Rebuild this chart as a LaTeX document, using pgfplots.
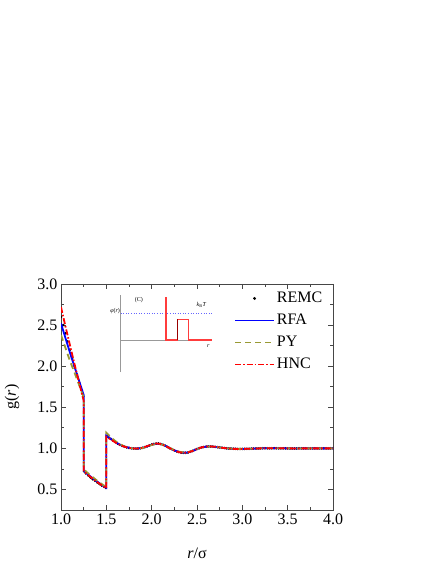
\documentclass[border=0pt]{standalone}
\usepackage{fontspec}
\setmainfont{Liberation Serif}
\usepackage{pgfplots}
\pgfplotsset{compat=1.18}
\definecolor{pyolive}{RGB}{153,153,51}
\definecolor{axisgray}{RGB}{70,70,70}
\definecolor{insetred}{RGB}{255,60,60}
\begin{document}
\begin{tikzpicture}
\useasboundingbox (-61bp,-54bp) rectangle (375bp,510bp);
\begin{axis}[
  at={(0,0)}, anchor=south west,
  scale only axis,
  width=272bp, height=226bp,
  clip marker paths=true,
  xmin=1, xmax=4, ymin=0.25, ymax=3,
  xtick={1,1.5,...,4}, ytick={0.5,1,...,3},
  minor x tick num=1, minor y tick num=1,
  tick align=inside,
  major tick length=5bp, minor tick length=3bp,
  axis line style={axisgray, line width=0.8bp},
  tick style={axisgray, line width=0.8bp},
  /pgf/number format/assume math mode=true,
  xticklabel style={/pgf/number format/.cd, fixed, fixed zerofill, precision=1},
  yticklabel style={/pgf/number format/.cd, fixed, fixed zerofill, precision=1},
  tick label style={font=\fontsize{16bp}{19bp}\selectfont},
  label style={font=\fontsize{16bp}{19bp}\selectfont},
  xlabel={\textit{r}/σ},
  ylabel={g(\textit{r})},
  xlabel style={at={(axis description cs:0.5,0)}, anchor=center, yshift=-43bp},
  ylabel style={at={(axis description cs:-0.18,0.5)}, anchor=center},
  legend style={at={(0.625,0.99)}, anchor=north west, draw=none, fill=none,
    font=\fontsize{16bp}{19bp}\selectfont, row sep=2bp,
    nodes={inner sep=2bp, text height=12bp, text depth=4bp}},
  legend cell align=left,
  legend image code/.code={\draw[#1] (0bp,0bp) -- (39bp,0bp);},
]
% REMC
\addplot[only marks, mark=*, mark size=1.1bp, black,
  legend image code/.code={\fill[black] (19.5bp,0bp) circle (1.3bp);}] coordinates {
(1.000,2.60) (1.025,2.50) (1.050,2.40) (1.075,2.30) (1.100,2.20) (1.125,2.10)
(1.150,2.00) (1.175,1.90) (1.200,1.80) (1.225,1.71) (1.245,1.63)
(1.255,0.72) (1.275,0.695) (1.300,0.67) (1.325,0.645) (1.350,0.625) (1.375,0.605)
(1.400,0.585) (1.425,0.565) (1.450,0.548) (1.475,0.532) (1.495,0.518)
(1.505,1.15) (1.525,1.135) (1.550,1.115) (1.575,1.095) (1.600,1.075) (1.625,1.058)
(1.650,1.043) (1.675,1.030) (1.700,1.020) (1.725,1.012) (1.750,1.006) (1.775,1.001)
(1.800,0.998) (1.825,0.997) (1.850,0.998) (1.875,1.001) (1.900,1.007) (1.925,1.015)
(1.950,1.025) (1.975,1.036) (2.000,1.046) (2.025,1.054) (2.050,1.058) (2.075,1.058)
(2.100,1.053) (2.125,1.044) (2.150,1.031) (2.175,1.017) (2.200,1.002) (2.225,0.988)
(2.250,0.975) (2.275,0.964) (2.300,0.955) (2.325,0.949) (2.350,0.946) (2.375,0.946)
(2.400,0.950) (2.425,0.958) (2.450,0.969) (2.475,0.981) (2.500,0.993) (2.525,1.003)
(2.550,1.011) (2.575,1.017) (2.600,1.021) (2.625,1.023) (2.650,1.023) (2.675,1.021)
(2.700,1.018) (2.725,1.015) (2.750,1.012) (2.775,1.008) (2.800,1.005) (2.825,1.002)
(2.850,0.999) (2.875,0.997) (2.900,0.995) (2.925,0.994) (2.950,0.993) (2.975,0.993)
(3.000,0.993) (3.025,0.993) (3.050,0.994) (3.075,0.995) (3.100,0.996) (3.125,0.997)
(3.150,0.998) (3.175,0.999) (3.200,1.000) (3.225,1.001) (3.250,1.001) (3.275,1.002)
(3.300,1.002) (3.325,1.002) (3.350,1.002) (3.375,1.001) (3.400,1.001) (3.425,1.000)
(3.450,1.000) (3.475,1.000) (3.500,1.000) (3.525,0.999) (3.550,0.999) (3.575,0.999)
(3.600,0.999) (3.625,1.000) (3.650,1.000) (3.675,1.000) (3.700,1.000) (3.725,1.000)
(3.750,1.000) (3.775,1.000) (3.800,1.000) (3.825,1.000) (3.850,1.000) (3.875,1.000)
(3.900,1.000) (3.925,1.000) (3.950,1.000) (3.975,1.000) (4.000,1.000)
};
\addlegendentry{REMC}
% RFA
\addplot[blue, line width=1.8bp] coordinates {
(1.00,2.52) (1.05,2.34) (1.10,2.16) (1.15,1.99) (1.20,1.82) (1.25,1.65)
(1.25,0.73) (1.30,0.68) (1.35,0.635) (1.40,0.595) (1.45,0.555) (1.50,0.52)
(1.50,1.155) (1.55,1.115) (1.60,1.076) (1.65,1.044) (1.70,1.021) (1.75,1.007)
(1.80,0.999) (1.85,0.998) (1.90,1.006) (1.95,1.024) (2.00,1.044) (2.05,1.057)
(2.10,1.053) (2.15,1.032) (2.20,1.004) (2.25,0.976) (2.30,0.957) (2.35,0.948)
(2.40,0.951) (2.45,0.968) (2.50,0.992) (2.55,1.011) (2.60,1.021) (2.65,1.023)
(2.70,1.018) (2.75,1.011) (2.80,1.004) (2.85,0.998) (2.90,0.995) (2.95,0.993)
(3.00,0.993) (3.10,0.996) (3.20,1.000) (3.30,1.002) (3.40,1.001) (3.50,1.000)
(3.60,0.999) (3.70,1.000) (3.80,1.000) (3.90,1.000) (4.00,1.000)
};
\addlegendentry{RFA}
% PY
\addplot[pyolive, line width=1.8bp, dash pattern=on 6bp off 4bp] coordinates {
(1.00,2.38) (1.05,2.22) (1.10,2.06) (1.15,1.92) (1.20,1.77) (1.25,1.62)
(1.25,0.745) (1.30,0.695) (1.35,0.65) (1.40,0.605) (1.45,0.565) (1.50,0.53)
(1.50,1.19) (1.55,1.135) (1.60,1.088) (1.65,1.050) (1.70,1.024) (1.75,1.007)
(1.80,0.998) (1.85,0.996) (1.90,1.004) (1.95,1.021) (2.00,1.041) (2.05,1.054)
(2.10,1.051) (2.15,1.032) (2.20,1.006) (2.25,0.979) (2.30,0.960) (2.35,0.951)
(2.40,0.954) (2.45,0.970) (2.50,0.992) (2.55,1.010) (2.60,1.020) (2.65,1.022)
(2.70,1.018) (2.75,1.011) (2.80,1.004) (2.85,0.999) (2.90,0.995) (2.95,0.994)
(3.00,0.994) (3.10,0.996) (3.20,1.000) (3.30,1.002) (3.40,1.001) (3.50,1.000)
(3.60,0.999) (3.70,1.000) (3.80,1.000) (3.90,1.000) (4.00,1.000)
};
\addlegendentry{PY}
% HNC
\addplot[red, line width=1.8bp, dash pattern=on 6bp off 2bp on 1.5bp off 2bp] coordinates {
(1.00,2.72) (1.05,2.48) (1.10,2.25) (1.15,2.02) (1.20,1.80) (1.25,1.58)
(1.25,0.72) (1.30,0.675) (1.35,0.63) (1.40,0.59) (1.45,0.55) (1.50,0.515)
(1.50,1.14) (1.55,1.108) (1.60,1.072) (1.65,1.042) (1.70,1.020) (1.75,1.006)
(1.80,0.999) (1.85,0.999) (1.90,1.008) (1.95,1.027) (2.00,1.047) (2.05,1.059)
(2.10,1.054) (2.15,1.031) (2.20,1.002) (2.25,0.974) (2.30,0.954) (2.35,0.946)
(2.40,0.950) (2.45,0.968) (2.50,0.993) (2.55,1.012) (2.60,1.022) (2.65,1.024)
(2.70,1.019) (2.75,1.011) (2.80,1.004) (2.85,0.998) (2.90,0.994) (2.95,0.993)
(3.00,0.993) (3.10,0.996) (3.20,1.000) (3.30,1.002) (3.40,1.001) (3.50,1.000)
(3.60,0.999) (3.70,1.000) (3.80,1.000) (3.90,1.000) (4.00,1.000)
};
\addlegendentry{HNC}
% inset: sketch of the potential
\addplot[gray!80, line width=0.6bp, forget plot] coordinates {(1.658,1.927) (1.658,2.866)};
\addplot[gray!80, line width=0.6bp, forget plot] coordinates {(1.658,2.317) (2.66,2.317)};
\addplot[blue!60, line width=0.6bp, dotted, forget plot] coordinates {(1.658,2.643) (2.66,2.643)};
\addplot[insetred, line width=1.4bp, forget plot] coordinates {
(2.158,2.84) (2.158,2.317) (2.283,2.317) (2.283,2.57) (2.408,2.57) (2.408,2.317) (2.66,2.317)};
\addplot[red!60!black, line width=0.5bp, forget plot] coordinates {(2.283,2.317) (2.283,2.57)};
\node[font=\fontsize{6bp}{7bp}\selectfont] at (axis cs:1.86,2.81) {(C)};
\node[font=\fontsize{6bp}{7bp}\selectfont, anchor=east, inner sep=0.5bp] at (axis cs:1.658,2.672) {\textit{φ}(\textit{r})};
\node[font=\fontsize{6bp}{7bp}\selectfont] at (axis cs:2.55,2.75) {\textit{k}\textsubscript{B}\textit{T}};
\node[font=\fontsize{6bp}{7bp}\selectfont] at (axis cs:2.624,2.245) {\textit{r}};
\end{axis}
\end{tikzpicture}
\end{document}
